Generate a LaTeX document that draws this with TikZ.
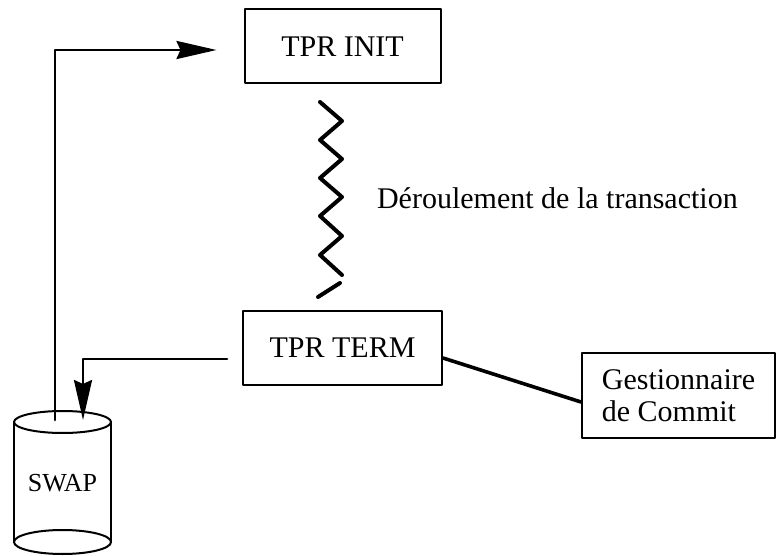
\documentclass[tikz,border=0pt]{standalone}
\usepackage{fontspec}
\setmainfont{Liberation Serif}
\usetikzlibrary{arrows.meta}
\tikzset{
  box/.style={draw, line width=1pt, minimum width=98pt, minimum height=37pt, inner sep=0pt},
  conn/.style={line width=1.4pt},
  tip/.style={-{Stealth[length=20pt, width=9pt, inset=2pt]}}
}
\begin{document}
\begin{tikzpicture}[x=0.5pt, y=-0.5pt, font=\fontsize{15}{16}\selectfont, line join=round, line cap=round]
			\useasboundingbox (0,0) rectangle (777,556);
			% boites
			\node[box] (init) at (342.5,46.5) {TPR INIT};
			\node[box, minimum width=99.5pt] (term) at (342.5,347.5) {TPR TERM};
			\node[box, minimum width=96.5pt, minimum height=42.5pt, align=left] (gc) at (678.5,395.5) {Gestionnaire\\de Commit};
			% disque
			\draw[line width=1pt] (62.5,422) ellipse [x radius=48.5, y radius=11];
			\draw[line width=1pt] (62.5,542) ellipse [x radius=48.5, y radius=12];
			\draw[line width=1pt] (14,422)--(14,542) (111,422)--(111,542);
			\node[font=\fontsize{13}{15}\selectfont] (swap) at (62.5,483) {SWAP};
			\coordinate (swapout) at (55,420);
			\coordinate (swapin) at (83,420);
			% liaisons
			\draw[conn, tip, shorten >=13.5pt] (swapout) |- ([yshift=-1.75pt]init.west);
			\draw[conn, tip, shorten <=7.5pt] ([yshift=-5.75pt]term.west) -| (swapin);
			\draw[conn, line width=1.8pt] ([yshift=-5.25pt]term.east) -- ([yshift=-3.25pt]gc.west);
			% transaction
			\draw[line width=2pt] (320,102)--(342,121)--(320,140)--(342,159)--(320,178)--(342,197)--(320,216)--(342,236)--(320,255)--(342,275);
			\draw[line width=2pt] (340,283)--(318,297);
			\node[anchor=west] (trans) at (370,198) {Déroulement de la transaction};
		\end{tikzpicture}
\end{document}
